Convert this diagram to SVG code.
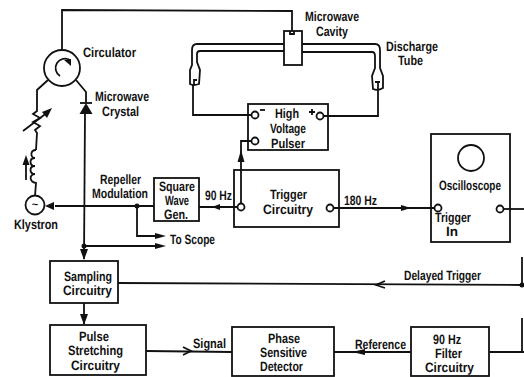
<svg xmlns="http://www.w3.org/2000/svg" width="524" height="377" viewBox="0 0 524 377">
<style>
rect,circle,path,line,polyline{stroke:#111;stroke-width:1.8;fill:none}
.fw{fill:#fff}
.dot{fill:#111;stroke:none}
.head{fill:#111;stroke:none}
text{font-family:"Liberation Sans",Arial,sans-serif;font-weight:bold;font-size:13.5px;fill:#111;stroke:none;text-rendering:geometricPrecision}
</style>
<rect width="524" height="377" fill="#fff" style="stroke:none"/>
<g id="connectors">
<polyline points="62,50 62,10 292,11 292,34"/>
<polyline points="48,80 37,90 37,108"/>
<polyline points="37,108 37,111 33,114 40,118 33,122 40,126 35,130 37,133 36,150"/>
<path d="M36 150C30 150 30 158 35 158C29 158 29 166 35 166C29 166 29 174 35 174C29 174 29 182 36 183L35 196"/>
<path d="M23 131L48 112"/><path class="head" d="M52 108L42 112L47 118z"/>
<line x1="26" y1="180" x2="26" y2="162"/><path class="head" d="M26 155L22.500 165L29.500 165z"/>
<polyline points="76,80 86,92 86,103"/>
<path class="head" d="M86 103L79.500 114L92.500 114z"/><line x1="80" y1="103" x2="92" y2="103"/>
<line x1="85" y1="113" x2="84" y2="259"/><path class="head" d="M84 260L80 249L88 249z"/>
<line x1="154" y1="206" x2="55" y2="206"/><path class="head" d="M45 206L54 202L54 210z"/>
<polyline points="137,206 137,236 160,236"/><path class="head" d="M166 236L155 233L155 239z"/>
<line x1="84" y1="246" x2="160" y2="246"/><path class="head" d="M166 246L155 243L155 249z"/>
<circle class="dot" cx="137" cy="206" r="2.500"/><circle class="dot" cx="84" cy="246" r="2.500"/>
<line x1="84" y1="303" x2="84" y2="324"/><path class="head" d="M84 325L80 314L88 314z"/>
<line x1="238" y1="207" x2="199" y2="207"/><path class="head" d="M212 207L220 204L220 210z"/>
<polyline points="241,204 241,141 252,141"/><path class="head" d="M241 150L237.500 162L244.500 162z"/>
<line x1="334" y1="208" x2="435" y2="208"/><path class="head" d="M411 208L401 205L401 211z"/>
<line x1="503" y1="209" x2="524" y2="209"/>
<line x1="118" y1="283" x2="522" y2="285"/><path d="M385 281L376 285L385 288"/>
<circle class="dot" cx="522" cy="285" r="2.500"/>
<line x1="522" y1="257" x2="522" y2="285"/><line x1="522" y1="318" x2="522" y2="352"/>
<line x1="489" y1="352" x2="524" y2="352"/>
<line x1="146" y1="351" x2="232" y2="352"/><path d="M183 347L191 351L183 355"/>
<line x1="411" y1="352" x2="334" y2="352"/><path class="head" d="M352 352L365 349L365 355z"/>
<polyline points="252,115 193,115 193,85"/>
<polyline points="323,116 378,116 378,89"/>
</g>
<g id="circulator"><circle cx="62" cy="68" r="18"/><path d="M70 60A9 9 0 1 0 60 76"/><path class="head" d="M71 66L71 59L64 60z"/><text x="83" y="57" textLength="53" lengthAdjust="spacingAndGlyphs">Circulator</text></g>
<g id="crystal-label"><text x="95" y="101" textLength="54" lengthAdjust="spacingAndGlyphs">Microwave</text><text x="102" y="116" textLength="37" lengthAdjust="spacingAndGlyphs">Crystal</text></g>
<g id="klystron"><circle cx="35" cy="205" r="9.500"/><text x="35" y="208" text-anchor="middle" style="font-size:11px">~</text><text x="14" y="229" textLength="44" lengthAdjust="spacingAndGlyphs">Klystron</text></g>
<g id="repeller-label"><text x="100" y="184" textLength="41" lengthAdjust="spacingAndGlyphs">Repeller</text><text x="92" y="198" textLength="56" lengthAdjust="spacingAndGlyphs">Modulation</text></g>
<g id="square-wave"><rect x="154" y="178" width="45" height="43" class="fw"/><text x="159" y="191" textLength="36" lengthAdjust="spacingAndGlyphs">Square</text><text x="165" y="205" textLength="24" lengthAdjust="spacingAndGlyphs">Wave</text><text x="164" y="219" textLength="24" lengthAdjust="spacingAndGlyphs">Gen.</text></g>
<g id="labels"><text x="205" y="200" textLength="27" lengthAdjust="spacingAndGlyphs">90 Hz</text><text x="344" y="205" textLength="33" lengthAdjust="spacingAndGlyphs">180 Hz</text><text x="170" y="244" textLength="45" lengthAdjust="spacingAndGlyphs">To Scope</text><text x="404" y="280" textLength="77" lengthAdjust="spacingAndGlyphs">Delayed Trigger</text><text x="193" y="348" textLength="33" lengthAdjust="spacingAndGlyphs">Signal</text><text x="355" y="349" textLength="51" lengthAdjust="spacingAndGlyphs">Reference</text></g>
<g id="sampling"><rect x="50" y="261" width="68" height="42"/><text x="64" y="281" textLength="48" lengthAdjust="spacingAndGlyphs">Sampling</text><text x="63" y="295" textLength="49" lengthAdjust="spacingAndGlyphs">Circuitry</text></g>
<g id="stretching"><rect x="50" y="325" width="96" height="50"/><text x="79" y="341" textLength="30" lengthAdjust="spacingAndGlyphs">Pulse</text><text x="68" y="355" textLength="55" lengthAdjust="spacingAndGlyphs">Stretching</text><text x="71" y="370" textLength="49" lengthAdjust="spacingAndGlyphs">Circuitry</text></g>
<g id="phase"><rect x="232" y="327" width="102" height="49"/><text x="268" y="343" textLength="32" lengthAdjust="spacingAndGlyphs">Phase</text><text x="260" y="357" textLength="47" lengthAdjust="spacingAndGlyphs">Sensitive</text><text x="260" y="371" textLength="43" lengthAdjust="spacingAndGlyphs">Detector</text></g>
<g id="filter"><rect x="411" y="327" width="78" height="49"/><text x="433" y="344" textLength="28" lengthAdjust="spacingAndGlyphs">90 Hz</text><text x="435" y="358" textLength="27" lengthAdjust="spacingAndGlyphs">Filter</text><text x="425" y="372" textLength="49" lengthAdjust="spacingAndGlyphs">Circuitry</text></g>
<g id="trigger"><rect x="234" y="170" width="105" height="57"/><circle cx="241" cy="207" r="3.500" class="fw"/><circle cx="330" cy="208" r="3.500" class="fw"/><text x="270" y="199" textLength="37" lengthAdjust="spacingAndGlyphs">Trigger</text><text x="263" y="214" textLength="50" lengthAdjust="spacingAndGlyphs">Circuitry</text></g>
<g id="scope"><rect x="431" y="134" width="79" height="108"/><circle cx="471" cy="158" r="13"/><circle cx="438" cy="208" r="3.500" class="fw"/><circle cx="500" cy="209" r="3.500" class="fw"/><text x="439" y="190" textLength="62" lengthAdjust="spacingAndGlyphs">Oscilloscope</text><text x="435" y="222" textLength="36" lengthAdjust="spacingAndGlyphs">Trigger</text><text x="446" y="236" textLength="12" lengthAdjust="spacingAndGlyphs">In</text></g>
<g id="pulser"><rect x="248" y="104" width="80" height="46"/><circle cx="255" cy="115" r="3.500" class="fw"/><circle cx="255" cy="141" r="3.500" class="fw"/><circle cx="320" cy="116" r="3.500" class="fw"/><line x1="260" y1="110" x2="265" y2="110"/><path d="M309 112H315M312 109V115"/><text x="275" y="118" textLength="24" lengthAdjust="spacingAndGlyphs">High</text><text x="270" y="133" textLength="36" lengthAdjust="spacingAndGlyphs">Voltage</text><text x="271" y="148" textLength="34" lengthAdjust="spacingAndGlyphs">Pulser</text></g>
<g id="discharge-tube"><path d="M284 44H197Q192 44 192 50V65L190 70V84Q193 86 199 84L200 70L197 62V54Q197 51 200 51H284"/><path d="M194 84V80H197"/><path d="M302 44H375Q380 44 380 50V68L383 76V88Q378 91 373 89L372 76L375 68V56Q375 52 372 52H302"/><path d="M375 82H380M378 82V89"/><text x="386" y="51" textLength="52" lengthAdjust="spacingAndGlyphs">Discharge</text><text x="398" y="65" textLength="25" lengthAdjust="spacingAndGlyphs">Tube</text></g>
<g id="cavity"><rect x="284" y="31" width="18" height="34" class="fw"/><path d="M290 31V34H294V31"/><text x="305" y="21" textLength="54" lengthAdjust="spacingAndGlyphs">Microwave</text><text x="316" y="36" textLength="32" lengthAdjust="spacingAndGlyphs">Cavity</text></g>
</svg>
